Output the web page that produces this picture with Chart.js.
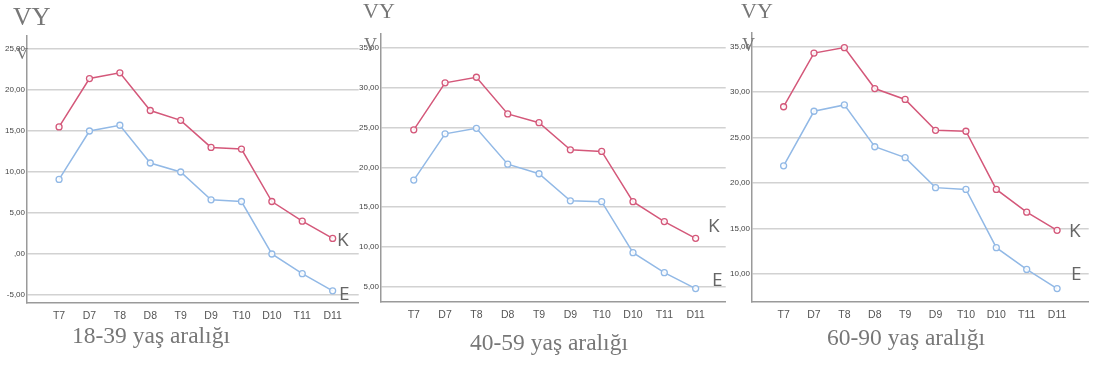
<!DOCTYPE html>
<html>
<head>
<meta charset="utf-8">
<script src="https://cdn.jsdelivr.net/npm/chart.js@4/dist/chart.umd.min.js"></script>
<style>
  html, body { margin: 0; padding: 0; background: #fff; }
  body { width: 1094px; height: 365px; position: relative; overflow: hidden; }
  .panel { position: absolute; top: 0; }
  .txt { position: absolute; color: #777; white-space: nowrap; line-height: 1; }
  .serif { font-family: "Liberation Serif", "DejaVu Serif", serif; }
  .sans { font-family: "Open Sans", "Liberation Sans", sans-serif; color: #666; }
</style>
</head>
<body>
<div class="panel" style="left:0;width:364px;height:330px"><canvas id="c1"></canvas></div>
<div class="panel" style="left:355px;width:376px;height:328px"><canvas id="c2"></canvas></div>
<div class="panel" style="left:720px;width:374px;height:328px"><canvas id="c3"></canvas></div>

<div class="txt serif" style="left:13px;top:4px;font-size:26px">VY</div>
<div class="txt serif" style="left:363px;top:0px;font-size:22px">VY</div>
<div class="txt serif" style="left:741px;top:0px;font-size:22px">VY</div>
<div class="txt serif" style="left:16px;top:45px;font-size:17px">V</div>
<div class="txt serif" style="left:364px;top:36px;font-size:18px">V</div>
<div class="txt serif" style="left:742px;top:36px;font-size:18px">V</div>

<div class="txt sans" style="left:337px;top:230px;font-size:19px">K</div>
<div class="txt sans" style="left:339px;top:284px;font-size:19px">E</div>
<div class="txt sans" style="left:708px;top:216px;font-size:19px">K</div>
<div class="txt sans" style="left:712px;top:270px;font-size:19px">E</div>
<div class="txt sans" style="left:1069px;top:221px;font-size:19px">K</div>
<div class="txt sans" style="left:1071px;top:264px;font-size:19px">E</div>

<div class="txt serif" style="left:72px;top:324px;font-size:23.5px">18-39 yaş aralığı</div>
<div class="txt serif" style="left:470px;top:331px;font-size:23.5px">40-59 yaş aralığı</div>
<div class="txt serif" style="left:827px;top:326px;font-size:23.5px">60-90 yaş aralığı</div>

<script>
const categories = ['T7', 'D7', 'T8', 'D8', 'T9', 'D9', 'T10', 'D10', 'T11', 'D11'];

// 18-39
const k1 = [15.5, 21.4, 22.1, 17.5, 16.3, 13.0, 12.8, 6.4, 4.0, 1.9];
const e1 = [9.1, 15.0, 15.7, 11.1, 10.0, 6.6, 6.4, 0.0, -2.4, -4.5];
const yTicks1 = [-5, 0, 5, 10, 15, 20, 25];

// 40-59
const k2 = [24.7, 30.6, 31.3, 26.7, 25.6, 22.2, 22.0, 15.7, 13.2, 11.1];
const e2 = [18.4, 24.2, 24.9, 20.4, 19.2, 15.8, 15.7, 9.3, 6.8, 4.8];
const yTicks2 = [5, 10, 15, 20, 25, 30, 35];

// 60-90
const k3 = [28.4, 34.3, 34.9, 30.4, 29.2, 25.8, 25.7, 19.3, 16.8, 14.8];
const e3 = [21.9, 27.9, 28.6, 24.0, 22.8, 19.5, 19.3, 12.9, 10.5, 8.4];
const yTicks3 = [10, 15, 20, 25, 30, 35];

const RED = '#d4587a';
const BLUE = '#92b9e6';

function fmt(v) {
  if (v === 0) return ',00';
  return v.toFixed(2).replace('.', ',');
}

function series(values, color) {
  return {
    data: values.map((v, i) => ({ x: i, y: v })),
    borderColor: color,
    backgroundColor: color,
    pointBackgroundColor: 'rgba(255,255,255,0.85)',
    pointBorderColor: color,
    pointRadius: 3,
    pointBorderWidth: 1.3,
    borderWidth: 1.5,
    tension: 0,
    fill: false
  };
}

function makePanel(id, cfg) {
  new Chart(document.getElementById(id), {
    type: 'line',
    data: { datasets: [series(cfg.k, RED), series(cfg.e, BLUE)] },
    options: {
      responsive: true,
      maintainAspectRatio: false,
      animation: false,
      layout: { padding: { top: cfg.top, left: 0, right: 0, bottom: 0 } },
      plugins: { legend: { display: false }, tooltip: { enabled: false } },
      scales: {
        x: {
          type: 'linear',
          min: cfg.xMin,
          max: cfg.xMax,
          afterBuildTicks: (scale) => { scale.ticks = categories.map((_, i) => ({ value: i })); },
          afterFit: (scale) => { scale.height = cfg.xh; },
          grid: { display: false, drawTicks: false },
          border: { display: true, color: '#9a9a9a', width: 1.5 },
          ticks: {
            autoSkip: false,
            maxRotation: 0,
            padding: 7,
            color: '#555',
            font: { family: 'Liberation Sans', size: 10.5 },
            callback: (v) => categories[v] ?? ''
          }
        },
        y: {
          min: cfg.yMin,
          max: cfg.yMax,
          afterBuildTicks: (scale) => { scale.ticks = cfg.yTicks.map((v) => ({ value: v })); },
          afterFit: (scale) => { scale.width = cfg.yw; },
          grid: { color: '#d2d2d2', lineWidth: 1.6, drawTicks: false },
          border: { display: true, color: '#9a9a9a', width: 1.5 },
          ticks: {
            padding: 2,
            color: '#444',
            font: { family: 'Liberation Sans', size: 8 },
            callback: (v) => fmt(v)
          }
        }
      }
    }
  });
}

makePanel('c1', { k: k1, e: e1, yTicks: yTicks1, yMin: -5.98, yMax: 26.59, xMin: -1.055, xMax: 9.857, yw: 27, top: 36, xh: 27 });
makePanel('c2', { k: k2, e: e2, yTicks: yTicks2, yMin: 3.12, yMax: 36.72, xMin: -1.046, xMax: 9.96, yw: 26, top: 34, xh: 26 });
makePanel('c3', { k: k3, e: e3, yTicks: yTicks3, yMin: 6.92, yMax: 36.51, xMin: -1.04, xMax: 10.04, yw: 32, top: 33, xh: 26 });
</script>
</body>
</html>
